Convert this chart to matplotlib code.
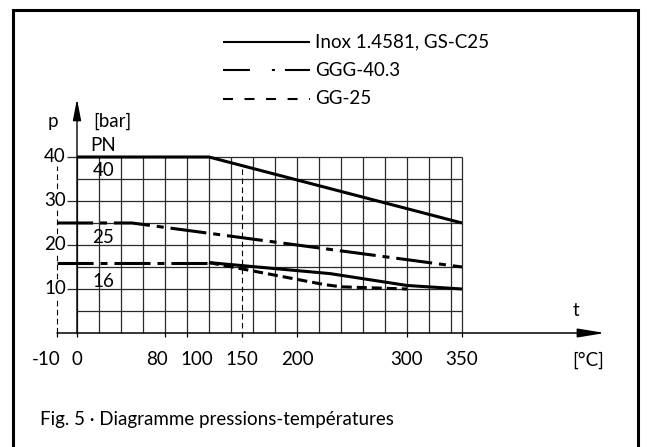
import numpy as np
import matplotlib
matplotlib.use('Agg')
import matplotlib.pyplot as plt
from matplotlib.lines import Line2D

plt.rcParams['font.family'] = ['Lato', 'DejaVu Sans']
plt.rcParams['lines.scale_dashes'] = False
plt.rcParams['lines.solid_capstyle'] = 'butt'
plt.rcParams['lines.dash_capstyle'] = 'butt'

# courbes pression-temperature (t en degC, p en bar)
inox40_t = [0, 120, 350]
inox40_p = [40, 40, 25]
ggg25_t = [-10, 50, 350]
ggg25_p = [25, 25, 15]
ggg16_t = [-10, 120]
ggg16_p = [16, 16]
inox16_t = [120, 230, 300, 350]
inox16_p = [16, 13.5, 10.8, 10]
gg16_t = [120, 225, 240, 300]
gg16_p = [16, 11, 10.5, 10]

x_ticks = [-10, 0, 80, 100, 150, 200, 300, 350]
x_labels = ['-10', '0', '80', '100', '150', '200', '300', '350']
y_ticks = [10, 20, 30, 40]
pn_values = [40, 25, 16]
legend_names = ['Inox 1.4581, GS-C25', 'GGG-40.3', 'GG-25']

W, H = 647, 447
FS = 13.5
NEG = 1.82  # la partie < 0 degC est dessinee hors echelle (une case pour -10)


def fwd(t):
    t = np.asarray(t, dtype=float)
    return np.where(t < 0, t * NEG, t)


def inv(u):
    u = np.asarray(u, dtype=float)
    return np.where(u < 0, u / NEG, u)


fig = plt.figure(figsize=(W / 100, H / 100), dpi=100)
ax = fig.add_axes([0, 0, 1, 1])
ax.set_xscale('function', functions=(fwd, inv))
# 1.1 px par degC, 4.4 px par bar, origine a (77, 333) px
ax.set_xlim(-77 / 1.1 / NEG, (W - 77) / 1.1)
ax.set_ylim(-(H - 333) / 4.4, 333 / 4.4)
ax.axis('off')

grid_c = '#2a2a2a'
# grille
for t in list(range(0, 341, 20)) + [350]:
    ax.plot([t, t], [0, 40], color=grid_c, lw=0.9, zorder=1)
for p in range(5, 41, 5):
    x0 = -5 if p % 10 == 0 else 0
    ax.plot([x0, 350], [p, p], color=grid_c, lw=0.9, zorder=1)

# lignes de reference pointillees
ax.plot([-10, -10], [0, 38], color='black', lw=0.8, dashes=(4, 2.5), zorder=1)
ax.plot([150, 150], [-0.9, 38], color='black', lw=0.8, dashes=(4, 2.5), zorder=1)

# ticks sous l'axe
for t in x_ticks:
    ax.plot([t, t], [0, -0.9], color='black', lw=0.9, zorder=2)

# axes avec fleches
ax.annotate('', xy=(0, 53.2), xytext=(0, 0),
            arrowprops=dict(arrowstyle='-|>,head_length=1.3,head_width=0.25',
                            mutation_scale=10, shrinkA=0, shrinkB=0,
                            lw=1.0, color='black'), zorder=3)
ax.annotate('', xy=(480, 0), xytext=(-10, 0),
            arrowprops=dict(arrowstyle='-|>,head_length=1.65,head_width=0.27',
                            mutation_scale=10, shrinkA=0, shrinkB=0,
                            lw=1.1, color='black'), zorder=3)

# courbes
lw = 2.2
dd = (26, 5, 5, 5)
ax.plot(inox40_t, inox40_p, color='black', lw=lw, zorder=4)
ax.plot(inox16_t, inox16_p, color='black', lw=lw, zorder=4)
ax.plot(ggg25_t, ggg25_p, color='black', lw=lw, dashes=dd, zorder=4)
ax.plot(ggg16_t, ggg16_p, color='black', lw=lw, dashes=dd, zorder=4)
ax.plot(gg16_t, gg16_p, color='black', lw=lw, dashes=(7.2, 3.6), zorder=4)

# textes
wbox = dict(facecolor='white', edgecolor='none', pad=0.5)
for p in y_ticks:
    ax.text(-5.5, p, str(p), ha='right', va='center', fontsize=FS, bbox=wbox, zorder=5)
label_dx = {'-10': -5.5, '80': -7, '100': 9}
for t, lab in zip(x_ticks, x_labels):
    ax.text(t + label_dx.get(lab, 0), -6.1, lab, ha='center', va='center', fontsize=FS)
ax.text(464.5, -6.1, '[°C]', ha='center', va='center', fontsize=FS)
ax.text(453.6, 5.2, 't', ha='center', va='center', fontsize=FS)
ax.text(-12.1, 48, 'p', ha='center', va='center', fontsize=FS)
ax.text(14.5, 48, '[bar]', ha='left', va='center', fontsize=FS)
ax.text(24, 42.7, 'PN', ha='center', va='center', fontsize=FS)
for p, y in zip(pn_values, [37.0, 21.8, 11.6]):
    ax.text(24, y, str(p), ha='center', va='center', fontsize=FS)

# legende
styles = [dict(), dict(dashes=(19.4, 15.8, 2.2, 7.2)), dict(dashes=(7.2, 8.3))]
for i, (name, st) in enumerate(zip(legend_names, styles)):
    yy = 1 - [42, 70, 99][i] / H
    fig.add_artist(Line2D([223 / W, 310 / W], [yy, yy], color='black', lw=1.5,
                          transform=fig.transFigure, **st))
    fig.text(315 / W, yy, name, ha='left', va='center', fontsize=FS)

# cadre
fx0, fx1, fy1 = 13 / W, 638 / W, 1 - 10 / H
fig.add_artist(Line2D([fx0, fx0, fx1, fx1], [-0.1, fy1, fy1, -0.1], color='black',
                      lw=2.2, transform=fig.transFigure, solid_joinstyle='miter'))

fig.text(40 / W, 1 - 419 / H, 'Fig. 5 · Diagramme pressions-températures',
         ha='left', va='center', fontsize=FS)

fig.savefig('out.png', dpi=100)
